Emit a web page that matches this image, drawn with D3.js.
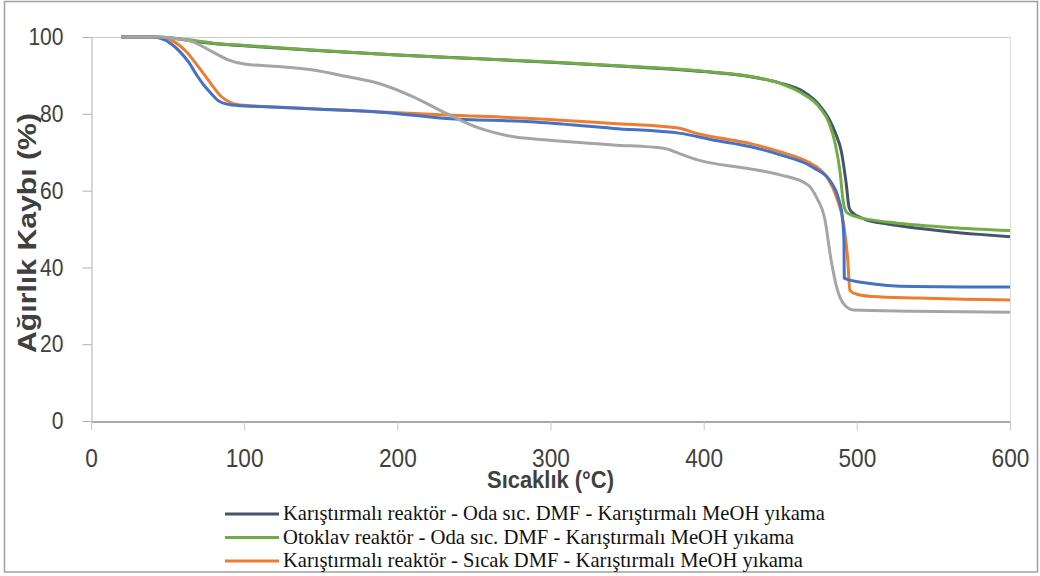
<!DOCTYPE html>
<html>
<head>
<meta charset="utf-8">
<script src="https://cdn.jsdelivr.net/npm/d3@7"></script>
<style>
	body{margin:0;background:#fff;}
	svg{display:block;}
</style>
</head>
<body>
<svg id="chart" width="1040" height="576"></svg>
<script>
// sıcaklık (°C) / ağırlık (%) okumaları, her seri için ayrı
const navyT  = [20,40,55,65,80,100,150,200,250,300,350,400,430,450,465,475,482,486,490,493,495,497,505,520,540,560,580,600];
const navyW  = [100,100,99.6,99.0,98.3,97.7,96.4,95.3,94.4,93.4,92.3,91.0,89.7,88.0,85.8,82.5,78.5,75,70,62,55.5,54.3,52.6,51.3,50.2,49.3,48.6,48.0];
const greenT = [20,40,55,65,80,100,150,200,250,300,350,400,430,450,463,476,482,486,489,491,493,496,505,520,560,600];
const greenW = [100,100,99.7,99.2,98.4,97.8,96.5,95.3,94.4,93.5,92.4,91.1,89.8,87.9,85.6,81.5,77.5,72,65,57.5,54.5,53.7,52.7,51.8,50.4,49.6];
const orangeT = [20,47,55,62,70,78,85,92,100,120,150,188,232,287,341,385,392,406,430,450,468,476,481,487,491.5,494,495.5,500,510,540,570,600];
const orangeW = [100,99.8,98.6,96.3,92.3,88.0,84.5,82.8,82.2,81.8,81.2,80.5,79.7,78.8,77.5,76.2,75.3,74.0,72.3,70.1,67.5,65.5,63.2,58,51,42.4,34,33,32.4,32,31.7,31.5];
const blueT  = [20,40,45,52,58,64,69,74,78,84,92,110,150,188,232,287,341,385,406,430,450,472,483,488,490.6,491.6,491.8,493,505,537,570,600];
const blueW  = [100,100,99.7,98.3,96.2,93.3,90.1,87.3,85.5,83.2,82.3,81.9,81.2,80.5,78.8,77.9,76.2,74.9,73.2,71.5,69.3,65.9,62.3,58,52.9,46.7,37.2,37.0,36.0,35.0,34.9,34.9];
const grayT  = [20,45,53,66,79,90,101,123,145,167,188,210,232,254,276,298,341,374,385,396,428,450,468,474,479,483,487,492,498,537,600];
const grayW  = [100,100,99.7,98.8,96.2,94,92.9,92.3,91.4,89.7,87.9,84.5,80.1,76.2,74,73.2,71.9,71,69.5,68,65.8,64.1,61.5,58,52.8,42.4,34.6,30.2,28.9,28.6,28.3];

const legendNames = [
	"Karıştırmalı reaktör - Oda sıc. DMF - Karıştırmalı MeOH yıkama",
	"Otoklav reaktör - Oda sıc. DMF - Karıştırmalı MeOH yıkama",
	"Karıştırmalı reaktör - Sıcak DMF - Karıştırmalı MeOH yıkama"
];
const xTicks = [0,100,200,300,400,500,600];
const yTicks = [0,20,40,60,80,100];

const series = [
	{t:navyT, w:navyW, color:"#44546A"},
	{t:greenT, w:greenW, color:"#70AD47"},
	{t:orangeT, w:orangeW, color:"#ED7D31"},
	{t:blueT, w:blueW, color:"#4472C4"},
	{t:grayT, w:grayW, color:"#A5A5A5"}
];

const svg = d3.select("#chart");
const plotL = 91, plotR = 1010, plotT = 37, plotB = 421;

const x = d3.scaleLinear().domain([0,600]).range([plotL,plotR]);
const y = d3.scaleLinear().domain([0,100]).range([plotB,plotT]);

// dış çerçeve
svg.append("rect")
	.attr("x",4.5).attr("y",1.5).attr("width",1033).attr("height",570.5)
	.attr("fill","none").attr("stroke","#a0a0a0").attr("stroke-width",1.5);

// çizim alanı kenarları
svg.append("line").attr("x1",plotL).attr("x2",plotR).attr("y1",plotT+0.5).attr("y2",plotT+0.5)
	.attr("stroke","#cfcfcf");
svg.append("line").attr("x1",plotR+0.5).attr("x2",plotR+0.5).attr("y1",plotT).attr("y2",plotB)
	.attr("stroke","#dedede");

const xAxis = d3.axisBottom(x).tickValues(xTicks).tickSize(9).tickSizeOuter(0).tickPadding(18);
const gx = svg.append("g").attr("transform",`translate(0,${plotB+0.5})`).call(xAxis);
gx.select(".domain").attr("stroke","#8c8c8c").attr("stroke-width",1.5);
gx.selectAll(".tick line").attr("stroke","#c8c8c8");
gx.selectAll(".tick text")
	.attr("font-family","Liberation Sans, Arial, sans-serif")
	.attr("font-size",26).attr("fill","#404040")
	.attr("textLength",d => String(d).length*12.6)
	.attr("lengthAdjust","spacingAndGlyphs");

const yAxis = d3.axisLeft(y).tickValues(yTicks).tickSize(9).tickSizeOuter(0).tickPadding(19);
const gy = svg.append("g").attr("transform",`translate(${plotL+0.5},0)`).call(yAxis);
gy.select(".domain").attr("stroke","#c8c8c8").attr("stroke-width",1.5);
gy.selectAll(".tick line").attr("stroke","#b0b0b0");
gy.selectAll(".tick text")
	.attr("font-family","Liberation Sans, Arial, sans-serif")
	.attr("font-size",24).attr("fill","#404040")
	.attr("textLength",d => String(d).length*11.7)
	.attr("lengthAdjust","spacingAndGlyphs");

// eksen başlıkları
svg.append("text")
	.attr("x",(plotL+plotR)/2).attr("y",488)
	.attr("text-anchor","middle")
	.attr("font-family","Liberation Sans, Arial, sans-serif")
	.attr("font-weight","bold").attr("font-size",24).attr("fill","#404040")
	.attr("textLength",127).attr("lengthAdjust","spacingAndGlyphs")
	.text("Sıcaklık (°C)");
svg.append("text")
	.attr("transform","translate(36,233) rotate(-90)")
	.attr("text-anchor","middle")
	.attr("font-family","Liberation Sans, Arial, sans-serif")
	.attr("font-weight","bold").attr("font-size",25).attr("fill","#404040")
	.attr("textLength",240).attr("lengthAdjust","spacingAndGlyphs")
	.text("Ağırlık Kaybı (%)");

// eğriler
const line = d3.line()
	.curve(d3.curveMonotoneX)
	.x(d => x(d[0]))
	.y(d => y(d[1]));

svg.append("g")
	.selectAll("path")
	.data(series)
	.join("path")
		.attr("fill","none")
		.attr("stroke",d => d.color)
		.attr("stroke-width",3)
		.attr("stroke-linejoin","round")
		.attr("d",d => line(d.t.map((t,i) => [t,d.w[i]])));

// lejant (yalnızca ilk üç kayıt görünüyor)
const legendWidths = [542,511,520];
const lg = svg.append("g")
	.selectAll("g")
	.data(legendNames)
	.join("g")
		.attr("transform",(d,i) => `translate(0,${520 + i*23.5})`);
lg.append("line")
	.attr("x1",225).attr("x2",279).attr("y1",-6).attr("y2",-6)
	.attr("stroke",(d,i) => series[i].color).attr("stroke-width",3);
lg.append("text")
	.attr("x",283).attr("y",0)
	.attr("font-family","Liberation Serif, Times New Roman, serif")
	.attr("font-size",21).attr("fill","#111")
	.attr("textLength",(d,i) => legendWidths[i]).attr("lengthAdjust","spacingAndGlyphs")
	.text(d => d);
</script>
</body>
</html>
